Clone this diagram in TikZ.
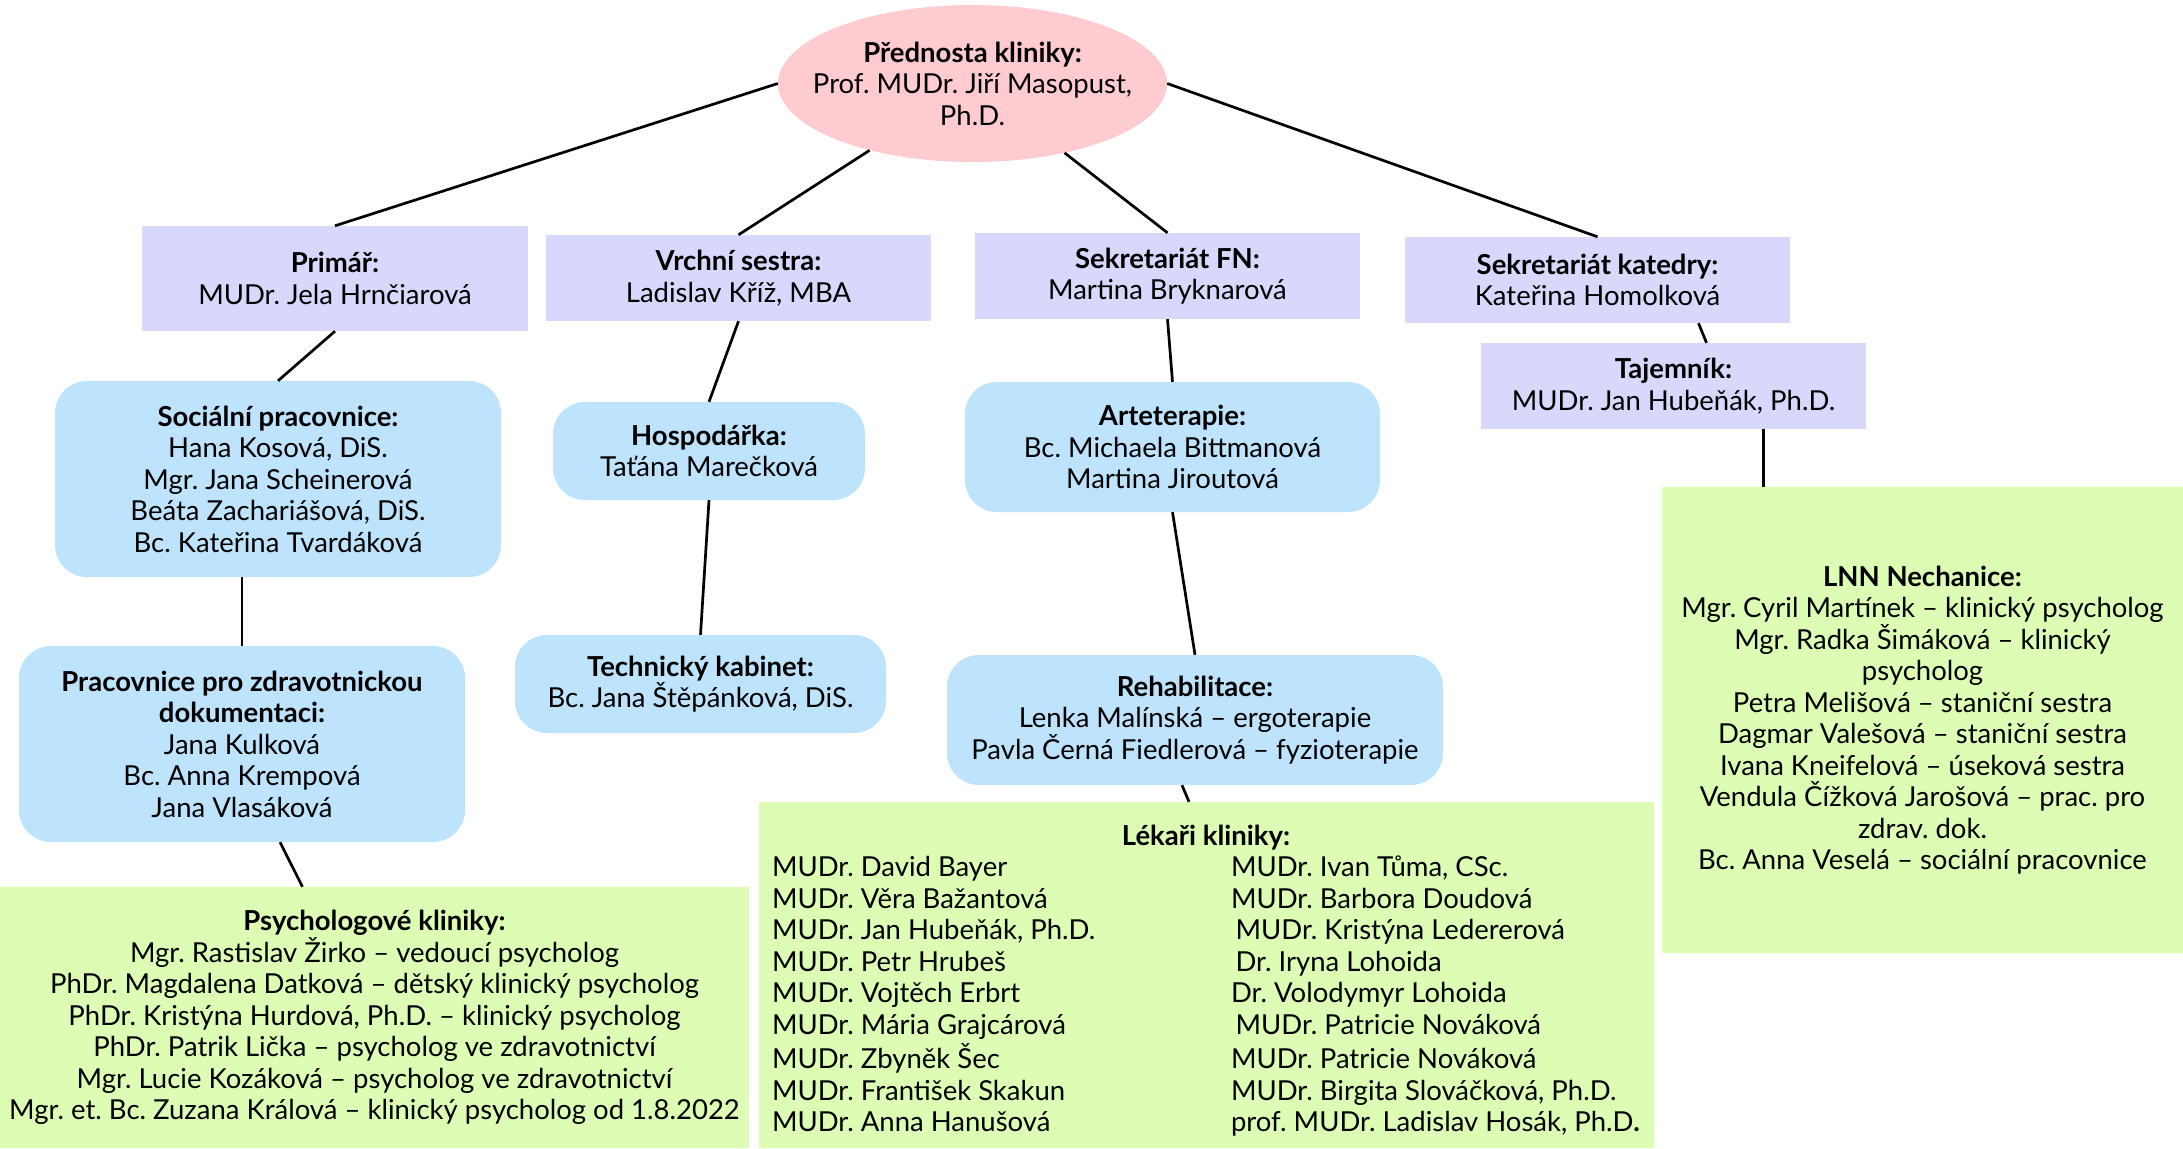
\documentclass[tikz,border=0pt]{standalone}
\usepackage{fontspec}
\setmainfont{Lato}
\usetikzlibrary{positioning,shapes.geometric}

\definecolor{headpink}{HTML}{FECBD0}
\definecolor{boxlav}{HTML}{D8D8FC}
\definecolor{boxblue}{HTML}{BDE3FD}
\definecolor{boxgreen}{HTML}{DDFDB4}

\begin{document}
\frenchspacing
\begin{tikzpicture}[x=1pt,y=-1pt,
  every node/.style={font=\fontsize{27.5}{31.5}\selectfont, align=center, inner sep=0pt},
  head/.style={ellipse, fill=headpink, inner xsep=-30pt, minimum width=389pt, minimum height=157pt},
  lav/.style={rectangle, fill=boxlav, minimum width=385pt, minimum height=86pt},
  team/.style={rectangle, rounded corners=32pt, fill=boxblue},
  staff/.style={rectangle, fill=boxgreen},
  link/.style={line width=2.7pt, black}]
  \useasboundingbox (0,0) rectangle (2183,1148);
  \node[head] (root) at (972.5,83.5) {\textbf{Přednosta kliniky:}\\Prof. MUDr. Jiří Masopust,\\Ph.D.};
  \node[lav, minimum width=386pt, minimum height=105pt] (prim) at (335,278.5) {\textbf{Primář:}\\MUDr. Jela Hrnčiarová};
  \node[lav] (vrch) at (738.5,278) {\textbf{Vrchní sestra:}\\Ladislav Kříž, MBA};
  \node[lav] (sekfn) at (1167.5,276) {\textbf{Sekretariát FN:}\\Martina Bryknarová};
  \node[lav] (sekkat) at (1597.5,280) {\textbf{Sekretariát katedry:}\\Kateřina Homolková};
  \node[lav] (taj) at (1673.5,386) {\textbf{Tajemník:}\\MUDr. Jan Hubeňák, Ph.D.};
  \node[team, minimum width=446pt, minimum height=196pt] (soc) at (278,479) {\textbf{Sociální pracovnice:}\\Hana Kosová, DiS.\\Mgr. Jana Scheinerová\\Beáta Zachariášová, DiS.\\Bc. Kateřina Tvardáková};
  \node[team, minimum width=312pt, minimum height=98pt] (hosp) at (709,451) {\textbf{Hospodářka:}\\Taťána Marečková};
  \node[team, minimum width=415pt, minimum height=130pt] (arte) at (1172.5,447) {\textbf{Arteterapie:}\\Bc. Michaela Bittmanová\\Martina Jiroutová};
  \node[team, minimum width=446pt, minimum height=196pt] (prac) at (242,744) {\textbf{Pracovnice pro zdravotnickou}\\\textbf{dokumentaci:}\\Jana Kulková\\Bc. Anna Krempová\\Jana Vlasáková};
  \node[team, minimum width=371pt, minimum height=98pt] (tech) at (700.5,684) {\textbf{Technický kabinet:}\\Bc. Jana Štěpánková, DiS.};
  \node[team, minimum width=496pt, minimum height=130pt] (reha) at (1195,720) {\textbf{Rehabilitace:}\\Lenka Malínská – ergoterapie\\Pavla Černá Fiedlerová – fyzioterapie};
  \node[staff, minimum width=749pt, minimum height=261pt] (psych) at (374.5,1017.5) {\textbf{Psychologové kliniky:}\\Mgr. Rastislav Žirko – vedoucí psycholog\\PhDr. Magdalena Datková – dětský klinický psycholog\\PhDr. Kristýna Hurdová, Ph.D. – klinický psycholog\\PhDr. Patrik Lička – psycholog ve zdravotnictví\\Mgr. Lucie Kozáková – psycholog ve zdravotnictví\\Mgr. et. Bc. Zuzana Králová – klinický psycholog od 1.8.2022};
  \node[staff, minimum width=895pt, minimum height=346pt] (lek) at (1206,975) {%
    \raisebox{-7pt}[\height][\depth]{\begin{tabular}{@{}p{459pt}@{}p{409pt}@{}}
      \multicolumn{2}{@{}c@{}}{\textbf{Lékaři kliniky:}}\\
      MUDr. David Bayer & MUDr. Ivan Tůma, CSc.\\
      MUDr. Věra Bažantová & MUDr. Barbora Doudová\\
      MUDr. Jan Hubeňák, Ph.D. & \,MUDr. Kristýna Ledererová\\
      MUDr. Petr Hrubeš & \,Dr. Iryna Lohoida\\
      MUDr. Vojtěch Erbrt & Dr. Volodymyr Lohoida\\
      MUDr. Mária Grajcárová & \,MUDr. Patricie Nováková\\
      MUDr. Zbyněk Šec & MUDr. Patricie Nováková\\
      MUDr. František Skakun & MUDr. Birgita Slováčková, Ph.D.\\
      MUDr. Anna Hanušová & prof. MUDr. Ladislav Hosák, Ph.D\textbf{.}
    \end{tabular}}};
  \node[staff, minimum width=521pt, minimum height=466pt] (lnn) at (1922.5,720) {\textbf{LNN Nechanice:}\\Mgr. Cyril Martínek – klinický psycholog\\Mgr. Radka Šimáková – klinický\\psycholog\\Petra Melišová – staniční sestra\\Dagmar Valešová – staniční sestra\\Ivana Kneifelová – úseková sestra\\Vendula Čížková Jarošová – prac. pro\\zdrav. dok.\\Bc. Anna Veselá – sociální pracovnice};
  \path[link]
  (root.west) edge (prim.north)
  (root.213) edge (vrch.north)
  (root.323) edge (sekfn.north)
  (root.east) edge (sekkat.north)
  (prim.south) edge (soc.north)
  (vrch.south) edge (hosp.north)
  (hosp.south) edge (tech.north)
  (sekfn.south) edge (arte.north)
  (arte.south) edge (reha.north)
  (prac.north |- soc.south) edge (prac.north)
  ([xshift=38pt]prac.south) edge ([xshift=-72pt]psych.north)
  ([xshift=-13pt]reha.south) edge ([xshift=-17pt]lek.north)
  ([xshift=101pt]sekkat.south) edge ([xshift=33pt]taj.north)
  ([xshift=90pt]taj.south) edge ([xshift=90pt]taj.south |- lnn.north);
\end{tikzpicture}
\end{document}
